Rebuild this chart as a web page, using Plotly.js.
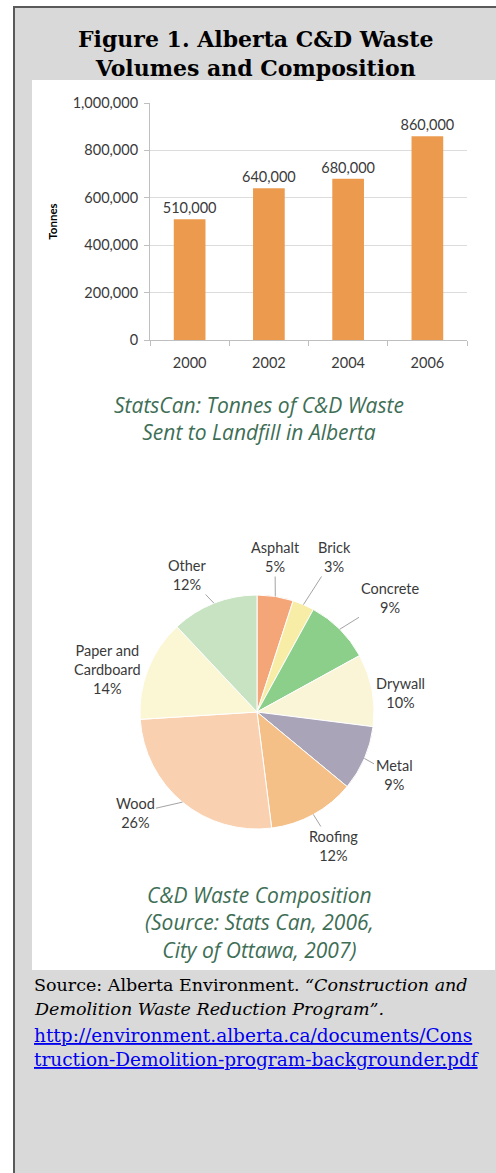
<!DOCTYPE html>
<html><head><meta charset="utf-8">
<script src="https://cdn.plot.ly/plotly-3.0.1.min.js"></script>
<style>html,body{margin:0;padding:0;background:#fff;}#chart{width:496px;height:1173px;}</style>
</head><body><div id="chart"></div>
<script>
// ---- data ----
const years = ['2000', '2002', '2004', '2006'];
const tonnes = [510000, 640000, 680000, 860000];
const yTicks = [0, 200000, 400000, 600000, 800000, 1000000];
const materials = ['Asphalt', 'Brick', 'Concrete', 'Drywall', 'Metal', 'Roofing', 'Wood', 'Paper and<br>Cardboard', 'Other'];
const shares = [5, 3, 9, 10, 9, 12, 26, 14, 12];
const sliceColors = ['#f4a678', '#f8eda6', '#8ccf8a', '#faf5d6', '#aaa4b8', '#f5c088', '#f9d1b0', '#fbf6d3', '#c7e3c1'];

// ---- layout constants (pixels) ----
const W = 496, H = 1173;
const px = x => x / W;
const py = y => 1 - y / H;
const PIE_CX = 257, PIE_CY = 712, PIE_R = 117;
// label centres (pixels) and whether a leader line is drawn
const pieLabelPos = [[275, 557], [334, 557], [390, 598], [400, 693], [394, 775], [333, 846], [135, 813], [107, 669], [187, 575]];
const pieLeader = [true, true, true, false, true, true, true, false, true];

const labelFont = {family: 'Lato, sans-serif', size: 14.5, color: '#3a3a3a'};
const green = '#3e6e55';

const bar = {
  type: 'bar', x: years, y: tonnes, xaxis: 'x', yaxis: 'y',
  marker: {color: '#ec9b4e'},
  text: tonnes.map(v => v.toLocaleString('en-US')),
  textposition: 'outside', cliponaxis: false, constraintext: 'none',
  textfont: {family: 'Lato, sans-serif', size: 14.5, color: '#3a3a3a'},
  hoverinfo: 'none'
};

const pie = {
  type: 'pie', labels: materials, values: shares, sort: false,
  direction: 'clockwise', rotation: 0,
  marker: {colors: sliceColors, line: {color: '#ffffff', width: 1}},
  textinfo: 'none',
  domain: {x: [px(PIE_CX - PIE_R), px(PIE_CX + PIE_R)], y: [py(PIE_CY + PIE_R), py(PIE_CY - PIE_R)]},
  showlegend: false, hoverinfo: 'none'
};

// pie labels: text from data, leader tip at each slice's mid-angle on the rim
const total = shares.reduce((a, b) => a + b, 0);
let cum = 0;
const pieAnnotations = materials.map((m, i) => {
  const mid = (cum + shares[i] / 2) / total * 2 * Math.PI;
  cum += shares[i];
  const tipX = PIE_CX + PIE_R * Math.sin(mid);
  const tipY = PIE_CY - PIE_R * Math.cos(mid);
  const [lx, ly] = pieLabelPos[i];
  const txt = m + '<br>' + shares[i] + '%';
  if (pieLeader[i]) {
    return {text: txt, xref: 'paper', yref: 'paper', x: px(tipX), y: py(tipY),
      axref: 'pixel', ayref: 'pixel', ax: lx - tipX, ay: ly - tipY,
      showarrow: true, arrowhead: 0, arrowwidth: 0.8, arrowcolor: '#8c8c8c', standoff: 0,
      font: labelFont, align: 'center'};
  }
  return {text: txt, xref: 'paper', yref: 'paper', x: px(lx), y: py(ly),
    xanchor: 'center', yanchor: 'middle', showarrow: false, font: labelFont, align: 'center'};
});

function line(text, x, y, font, anchor) {
  return {text: text, xref: 'paper', yref: 'paper', x: px(x), y: py(y),
    xanchor: anchor || 'center', yanchor: 'middle', showarrow: false, font: font, align: anchor || 'center'};
}
const titleFont = {family: 'DejaVu Serif, serif', size: 21, color: '#000', weight: 700};
const capFont = {family: 'Open Sans, sans-serif', size: 21, color: green, style: 'italic'};
const srcFont = {family: 'DejaVu Serif, serif', size: 17.5, color: '#000'};
const linkFont = {family: 'DejaVu Serif, serif', size: 18.5, color: '#0000ee'};

const layout = {
  width: W, height: H,
  margin: {l: 0, r: 0, t: 0, b: 0, pad: 0},
  paper_bgcolor: '#ffffff', plot_bgcolor: 'rgba(0,0,0,0)',
  showlegend: false, bargap: 0.6,
  xaxis: {
    domain: [px(150), px(467)], type: 'category', anchor: 'y',
    showline: true, linecolor: '#bfbfbf', ticks: 'outside', tickson: 'boundaries',
    ticklen: 5, tickcolor: '#bfbfbf', tickfont: labelFont, showgrid: false, ticklabelstandoff: 10
  },
  yaxis: {
    domain: [py(340), py(103)], range: [0, 1000000], anchor: 'x',
    tickvals: yTicks, tickformat: ',d',
    showline: true, linecolor: '#bfbfbf', ticks: 'outside', ticklen: 5, tickcolor: '#bfbfbf',
    gridcolor: '#dcdcdc', zeroline: false, tickfont: labelFont, ticklabelstandoff: 3,
    title: {text: '<b>Tonnes</b>', font: {family: 'Lato, sans-serif', size: 11.5, color: '#000'}, standoff: 12}
  },
  shapes: [
    {type: 'rect', xref: 'paper', yref: 'paper', x0: px(14), x1: 1.05, y0: -0.05, y1: py(7),
     fillcolor: '#d9d9d9', line: {width: 0}, layer: 'below'},
    {type: 'line', xref: 'paper', yref: 'paper', x0: px(14), x1: px(14), y0: -0.05, y1: py(7),
     line: {color: '#5a5a5a', width: 2}, layer: 'below'},
    {type: 'line', xref: 'paper', yref: 'paper', x0: px(13), x1: 1.05, y0: py(7), y1: py(7),
     line: {color: '#5a5a5a', width: 2}, layer: 'below'},
    {type: 'rect', xref: 'paper', yref: 'paper', x0: px(32), x1: px(495), y0: py(970), y1: py(80),
     fillcolor: '#ffffff', line: {width: 0}, layer: 'below'}
  ],
  annotations: [
    line('Figure 1. Alberta C&D Waste<br>Volumes and Composition', 255, 53, Object.assign({}, titleFont, {size: 22})),
    line('StatsCan: Tonnes of C&D Waste<br>Sent to Landfill in Alberta', 259, 418, capFont),
    line('C&D Waste Composition<br>(Source: Stats Can, 2006,<br>City of Ottawa, 2007)', 259, 922, capFont),
    line('Source: Alberta Environment. <i>“Construction and</i>', 32, 985, srcFont, 'left'),
    line('<i>Demolition Waste Reduction Program”.</i>', 32, 1009, srcFont, 'left'),
    line('<span style="text-decoration:underline">http://environment.alberta.ca/documents/Cons</span>', 32, 1035, linkFont, 'left'),
    line('<span style="text-decoration:underline">truction-Demolition-program-backgrounder.pdf</span>', 32, 1059, linkFont, 'left')
  ].concat(pieAnnotations)
};

Plotly.newPlot('chart', [bar, pie], layout, {displayModeBar: false, staticPlot: true});
</script>
</body></html>
